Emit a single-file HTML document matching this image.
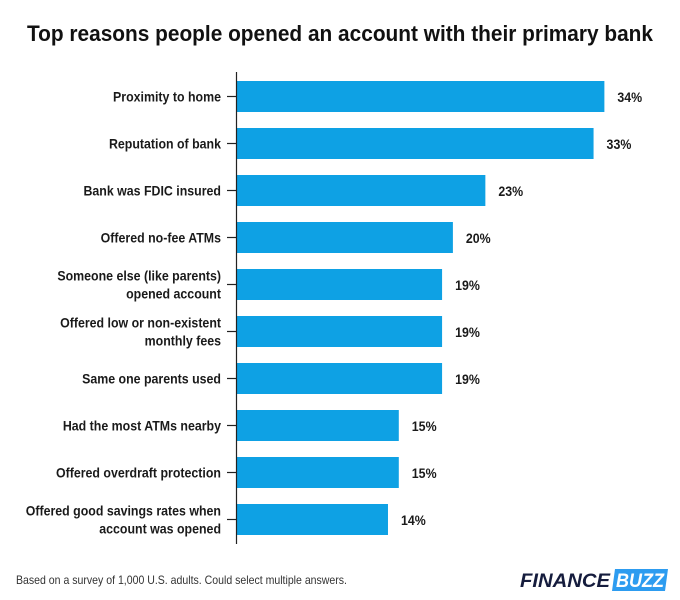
<!DOCTYPE html>
<html><head><meta charset="utf-8"><style>
html,body{margin:0;padding:0;background:#fff;}
svg{display:block;font-family:"Liberation Sans",Arial,sans-serif;}
</style></head><body>
<svg id="chart" width="680" height="600" viewBox="0 0 680 600">
<text x="340" y="41" text-anchor="middle" font-size="22" font-weight="bold" fill="#111" textLength="626" lengthAdjust="spacingAndGlyphs">Top reasons people opened an account with their primary bank</text>
<g id="bars"></g>
<line x1="236.5" y1="72" x2="236.5" y2="544" stroke="#222" stroke-width="1.2"/>
<text x="16" y="584" font-size="12" fill="#333" textLength="331" lengthAdjust="spacingAndGlyphs">Based on a survey of 1,000 U.S. adults. Could select multiple answers.</text>
<g>
<text x="520" y="587" font-size="19" font-weight="bold" font-style="italic" fill="#151c3d" textLength="90" lengthAdjust="spacingAndGlyphs">FINANCE</text>
<polygon points="615,569 668,569 665,591 612,591" fill="#2d9cf0"/>
<text x="616" y="587" font-size="19" font-weight="bold" font-style="italic" fill="#fff" textLength="48" lengthAdjust="spacingAndGlyphs">BUZZ</text>
</g>
</svg>
<script>
const categories = [
  ["Proximity to home"],
  ["Reputation of bank"],
  ["Bank was FDIC insured"],
  ["Offered no-fee ATMs"],
  ["Someone else (like parents)","opened account"],
  ["Offered low or non-existent","monthly fees"],
  ["Same one parents used"],
  ["Had the most ATMs nearby"],
  ["Offered overdraft protection"],
  ["Offered good savings rates when","account was opened"]
];
const values = [34,33,23,20,19,19,19,15,15,14];
const valueLabels = ["34%","33%","23%","20%","19%","19%","19%","15%","15%","14%"];

const NS = "http://www.w3.org/2000/svg";
const x0 = 236.5, pxPerUnit = 10.82;
const xScale = v => x0 + v * pxPerUnit;
const yCenter = i => 96.5 + i * 47;
const barH = 31;
const g = document.getElementById("bars");
function mk(tag, attrs){const e=document.createElementNS(NS,tag);for(const k in attrs)e.setAttribute(k,attrs[k]);return e;}
values.forEach((v,i)=>{
  const cy = yCenter(i);
  const r = mk("rect",{x:x0,y:cy-barH/2,width:xScale(v)-x0,height:barH,fill:"#0ea1e4"});
  
  
  g.appendChild(r);
  const t = mk("line",{x1:227,x2:236,y1:cy,y2:cy,stroke:"#222","stroke-width":1.2});
  
  
  g.appendChild(t);
  const lines = categories[i];
  lines.forEach((ln,j)=>{
    const off = lines.length===1 ? 0 : (j===0 ? -9 : 9);
    const tx = mk("text",{x:0,y:0,transform:"translate(221,"+(cy+off+5)+") scale(0.885,1)","text-anchor":"end","font-size":"14","font-weight":"bold",fill:"#1a1a1a"});
    tx.textContent = ln;
    
    
    g.appendChild(tx);
  });
  const vl = mk("text",{x:0,y:0,transform:"translate("+(xScale(v)+13)+","+(cy+5.5)+") scale(0.885,1)","font-size":"14","font-weight":"bold",fill:"#1a1a1a"});
  vl.textContent = valueLabels[i];
  
  
  g.appendChild(vl);
});
</script>
</body></html>
